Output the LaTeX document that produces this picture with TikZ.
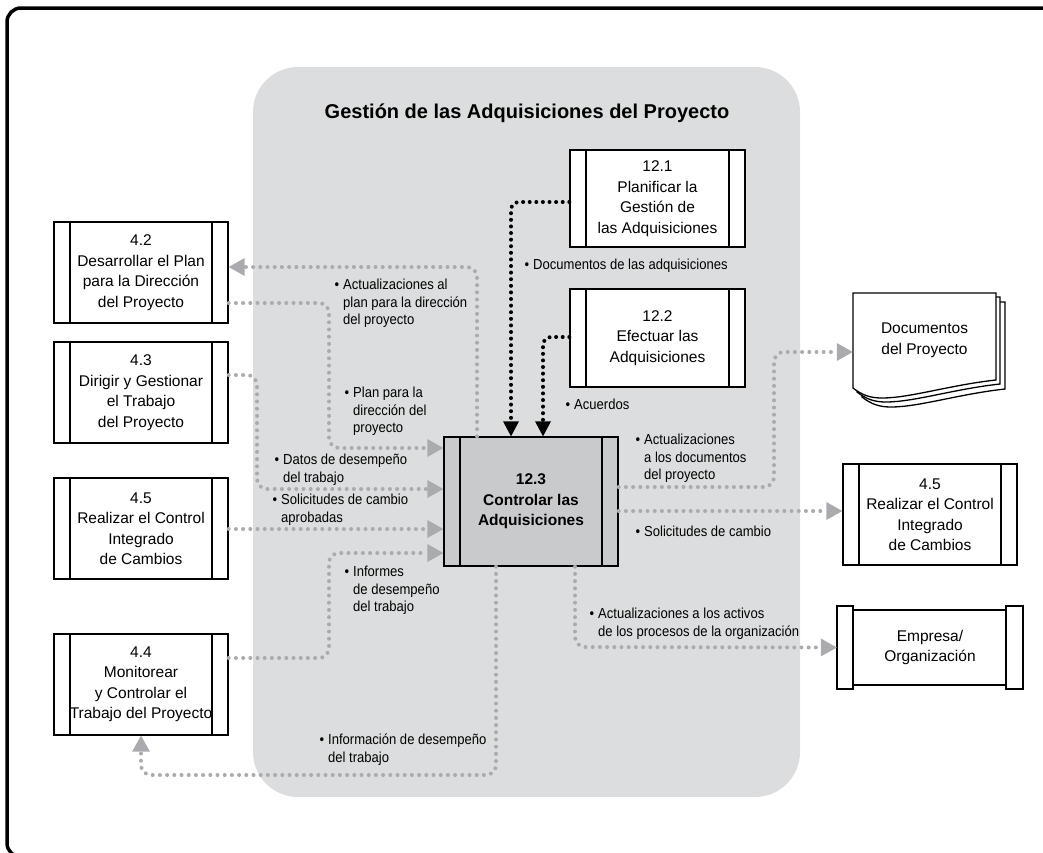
\documentclass[tikz,border=0pt]{standalone}
\usepackage{fontspec}
\setmainfont{Liberation Sans}
\newfontfamily\narrowfont[FakeStretch=0.9]{Liberation Sans}
\usetikzlibrary{arrows.meta, positioning, calc}
\definecolor{areagray}{HTML}{DCDDDE}
\definecolor{ctrlgray}{HTML}{C9CACC}
\definecolor{dotgray}{HTML}{A9ABAE}
\newcommand{\boxfont}{\fontsize{15.5}{20.5}\selectfont}
\newcommand{\lblfont}{\narrowfont\fontsize{14.5}{17.3}\selectfont}
\newcommand{\bul}{\makebox[0pt][r]{\textbullet\hspace{4pt}}}
\tikzset{
  procbox/.style={draw, line width=1.4pt, fill=white, minimum width=174pt,
    minimum height=101pt, align=center, font=\boxfont, inner sep=0pt,
    path picture={\draw[line width=1.4pt]
      ([xshift=16pt]path picture bounding box.north west) -- ([xshift=16pt]path picture bounding box.south west)
      ([xshift=-16pt]path picture bounding box.north east) -- ([xshift=-16pt]path picture bounding box.south east);}},
  grayflow/.style={dotgray, line width=4pt, line cap=round, dash pattern=on 0pt off 7.2pt,
    rounded corners=10pt, -{Triangle[length=16pt, width=18pt, line width=0pt]}},
  blackflow/.style={black, line width=4pt, line cap=round, dash pattern=on 0pt off 6.6pt,
    rounded corners=8pt, -{Triangle[length=15pt, width=16pt, line width=0pt]}},
  flowlbl/.style={font=\lblfont, align=left, anchor=north west, inner sep=0pt},
  sheet/.style={draw, fill=white, line width=1.3pt}
}
\newcommand{\docsheet}[1]{%
  \draw[sheet, shift={(#1,#1)}] (853,293) -- (996,293) -- (996,380)
    .. controls (950,385) and (910,398) .. (882,398)
    .. controls (870,398) and (862,395) .. (853,388) -- cycle;}

\begin{document}
\begin{tikzpicture}[x=1pt, y=-1pt]
  \useasboundingbox (0,0) rectangle (1043,852);
  \clip (0,0) rectangle (1043,852);
  % frame and process group
  \draw[line width=3.5pt, rounded corners=14pt] (100,857) -- (7,857) -- (7,8) -- (1060,8);
  \fill[areagray, rounded corners=45pt] (253,67) rectangle (800,797);
  \node[font=\fontsize{20}{24}\selectfont\bfseries] (title) at (527,113) {Gestión de las Adquisiciones del Proyecto};

  % process boxes
  \node[procbox] (pdev) at (141,272.5) {4.2\\Desarrollar el Plan\\para la Dirección\\del Proyecto};
  \node[procbox] (pdir) at (141,392.5) {4.3\\Dirigir y Gestionar\\el Trabajo\\del Proyecto};
  \node[procbox] (pchg) at (141,528.5) {4.5\\Realizar el Control\\Integrado\\de Cambios};
  \node[procbox] (pmon) at (141,684.5) {4.4\\Monitorear\\y Controlar el\\Trabajo del Proyecto};
  \node[procbox, minimum width=175pt, minimum height=97pt] (pplan) at (657.5,198.5) {12.1\\Planificar la\\Gestión de\\las Adquisiciones};
  \node[procbox, minimum width=175pt, minimum height=98pt] (pdo) at (657.5,338) {12.2\\Efectuar las\\Adquisiciones};
  \node[procbox, fill=ctrlgray, minimum height=129pt, font=\boxfont\bfseries] (pctrl) at (531,501.5) {12.3\\Controlar las\\Adquisiciones};
  \node[procbox] (pchgout) at (930,514.5) {4.5\\Realizar el Control\\Integrado\\de Cambios};

  % documents
  \docsheet{9}
  \docsheet{4}
  \docsheet{0}
  \node[minimum width=143pt, minimum height=95pt, align=center, font=\boxfont, inner sep=0pt] (docs) at (924.5,340.5) {Documentos\\del Proyecto};

  % organisation
  \draw[line width=1.4pt, fill=white] (853,610) rectangle (1006,685);
  \draw[line width=1.4pt, fill=white] (837,606) rectangle (853,689);
  \draw[line width=1.4pt, fill=white] (1006,606) rectangle (1023,689);
  \node[minimum width=186pt, minimum height=83pt, align=center, font=\boxfont, inner sep=0pt] (org) at (930,647.5) {Empresa/\\Organización};

  % inputs from 12.1 and 12.2
  \draw[blackflow] (pplan.west |- 0,202) -- (511,202) -- (pctrl.north -| 511,0);
  \draw[blackflow] (pdo.west |- 0,337) -- (543,337) -- (pctrl.north -| 543,0);

  % flows on the left
  \draw[grayflow] (pctrl.north -| 477,0) -- (477,267) -- (pdev.east |- 0,267);
  \draw[grayflow] (pdev.east |- 0,303) -- (329,303) -- (329,448) -- (pctrl.west |- 0,448);
  \draw[grayflow] (pdir.east |- 0,375) -- (257,375) -- (257,489) -- (pctrl.west |- 0,489);
  \draw[grayflow] (pchg.east |- 0,529) -- (pctrl.west |- 0,529);
  \draw[grayflow] (pmon.east |- 0,658) -- (329,658) -- (329,553) -- (pctrl.west |- 0,553);
  \draw[grayflow] (pctrl.south -| 496,0) -- (496,775) -- (141,775) -- (pmon.south);

  % flows on the right
  \draw[grayflow] (pctrl.east |- 0,487) -- (774,487) -- (774,352) -- (docs.west |- 0,352);
  \draw[grayflow] (pctrl.east |- 0,511) -- (pchgout.west |- 0,511);
  \draw[grayflow] (pctrl.south -| 575,0) -- (575,647) -- (org.west);

  % labels
  \node[flowlbl] (lupdplan) at (343,279) {\bul Actualizaciones al\\plan para la dirección\\del proyecto};
  \node[flowlbl] (lplan) at (353,387) {\bul Plan para la\\dirección del\\proyecto};
  \node[flowlbl] (ldata) at (283,454) {\bul Datos de desempeño\\del trabajo};
  \node[flowlbl] (lapproved) at (281,494) {\bul Solicitudes de cambio\\aprobadas};
  \node[flowlbl] (lreports) at (353,566) {\bul Informes\\de desempeño\\del trabajo};
  \node[flowlbl] (linfo) at (328,734) {\bul Información de desempeño\\del trabajo};
  \node[flowlbl] (lprocdocs) at (533,259) {\bul Documentos de las adquisiciones};
  \node[flowlbl] (lagree) at (574,399) {\bul Acuerdos};
  \node[flowlbl] (lupddocs) at (644,434) {\bul Actualizaciones\\a los documentos\\del proyecto};
  \node[flowlbl] (lchange) at (644,526) {\bul Solicitudes de cambio};
  \node[flowlbl] (lupdorg) at (598,608) {\bul Actualizaciones a los activos\\de los procesos de la organización};
\end{tikzpicture}
\end{document}
